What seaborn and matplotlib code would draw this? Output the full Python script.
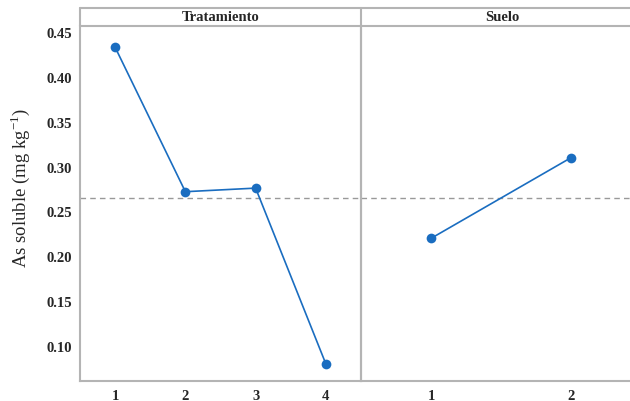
import matplotlib
matplotlib.use("Agg")
import matplotlib.pyplot as plt
from matplotlib.lines import Line2D
import seaborn as sn
import pandas as pd

# Main effects data (means of soluble As)
tratamiento_levels = [1, 2, 3, 4]
tratamiento_means = [0.433, 0.272, 0.276, 0.080]
suelo_levels = [1, 2]
suelo_means = [0.220, 0.310]
grand_mean = 0.2645

y_ticks = [0.10, 0.15, 0.20, 0.25, 0.30, 0.35, 0.40, 0.45]

sn.set_style("white")
plt.rcParams['font.family'] = ['Liberation Serif', 'DejaVu Serif']
plt.rcParams['mathtext.fontset'] = 'custom'
plt.rcParams['mathtext.rm'] = 'Liberation Serif'

line_color = '#1a6dc0'
frame_color = '#b4b4b4'

fig = plt.figure(figsize=(6.30, 4.02), dpi=100)

left, divider, right = 80 / 630, 361 / 630, 1.0
bottom, top, strip_top = 1 - 382 / 402, 1 - 27 / 402, 1 - 9 / 402

ax1 = fig.add_axes([left, bottom, divider - left, top - bottom])
ax2 = fig.add_axes([divider, bottom, right - divider, top - bottom], sharey=ax1)

df1 = pd.DataFrame({'level': tratamiento_levels, 'mean': tratamiento_means})
df2 = pd.DataFrame({'level': suelo_levels, 'mean': suelo_means})

for ax, df, xlim in [(ax1, df1, (0.5, 4.5)), (ax2, df2, (0.5, 2.42))]:
    sn.lineplot(data=df, x='level', y='mean', ax=ax, color=line_color,
                marker='o', markersize=7, markeredgewidth=0, linewidth=1.2)
    ax.axhline(grand_mean, color='#999999', linestyle=(0, (4, 3)), linewidth=1.0, zorder=0)
    ax.set_xlim(*xlim)
    ax.set_xlabel('')
    ax.set_ylabel('')
    for s in ['top', 'right']:
        ax.spines[s].set_visible(False)
    for s in ['left', 'bottom']:
        ax.spines[s].set_color(frame_color)
        ax.spines[s].set_linewidth(1.5)
    ax.tick_params(axis='both', direction='out', length=4, width=1, color=frame_color,
                   labelsize=10.5, pad=2)

ax1.set_xticks(tratamiento_levels)
ax2.set_xticks(suelo_levels)
ax1.set_ylim(0.061, 0.4567)
ax1.set_yticks(y_ticks)
ax1.set_yticklabels(['{0:.2f}'.format(v) for v in y_ticks])
ax2.tick_params(axis='y', left=False, labelleft=False)

for lab in ax1.get_xticklabels() + ax2.get_xticklabels() + ax1.get_yticklabels():
    lab.set_fontweight('bold')

ax1.set_ylabel('As soluble (mg kg$^{\\mathregular{-1}}$)', fontsize=13.5, va='center')
ax1.yaxis.set_label_coords(-0.214, 0.548)

# Strip panel headers
fig.add_artist(Line2D([left, right], [strip_top, strip_top], color=frame_color, lw=1.5))
fig.add_artist(Line2D([left, right], [top, top], color=frame_color, lw=1.5))
fig.add_artist(Line2D([left, left], [top, strip_top], color=frame_color, lw=1.5))
fig.add_artist(Line2D([divider, divider], [bottom, strip_top], color=frame_color, lw=1.5))

strip_mid = (top + strip_top) / 2
fig.text((left + divider) / 2, strip_mid, 'Tratamiento', ha='center', va='center',
         fontsize=10.5, fontweight='bold')
fig.text(502 / 630, strip_mid, 'Suelo', ha='center', va='center',
         fontsize=10.5, fontweight='bold')

fig.savefig('out.png', dpi=100)
